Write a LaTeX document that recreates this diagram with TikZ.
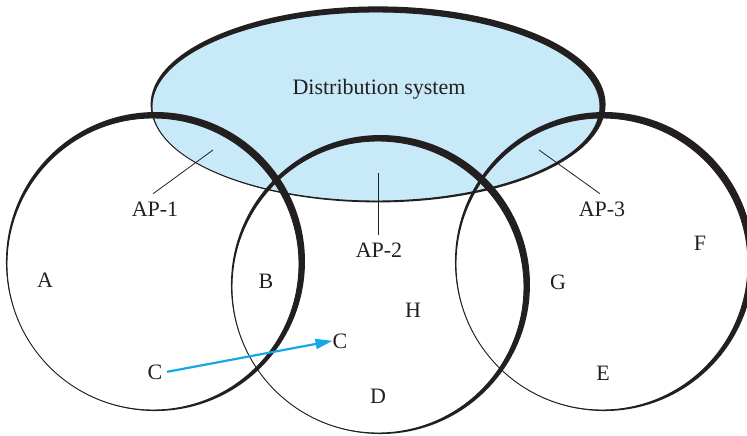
\documentclass[tikz,border=0pt]{standalone}
\usepackage{fontspec}
\setmainfont{Liberation Serif}
\usetikzlibrary{calc,arrows.meta}
\definecolor{ink}{HTML}{231F20}
\definecolor{dsfill}{HTML}{C7E9F8}
\definecolor{arrowblue}{HTML}{14A8E4}
\begin{document}
\begin{tikzpicture}[x=1pt,y=-1pt,
  lbl/.style={font=\fontsize{22}{24}\selectfont, text=ink, inner sep=0pt, anchor=base},
  aplbl/.style={lbl, inner sep=7.5pt},
  thinline/.style={draw=ink, line width=0.9pt},
  leader/.style={draw=ink, line width=0.8pt},
  moveline/.style={draw=arrowblue, line width=2.2pt, -{Triangle[length=17pt,width=10pt]}}]
\useasboundingbox (0,0) rectangle (747,436);
\clip (0,0) rectangle (747,436);
% centres
\coordinate (e) at (376,106.5);
\coordinate (c1) at (153,264);
\coordinate (c2) at (378,287);
\coordinate (c3) at (602,264);
% distribution system fill
\fill[dsfill] (e) ellipse [x radius=224, y radius=94.5];
% ellipse outline with heavy upper-right edge
\fill[ink, even odd rule] ($(e)+(2.1,-2.1)$) ellipse [x radius=227.5, y radius=98]
   (e) ellipse [x radius=224, y radius=94.5];
\draw[thinline] (e) ellipse [x radius=224, y radius=94.5];
% BSS circles with heavy upper-right edge
\foreach \c in {c1,c2,c3}{
  \fill[ink, even odd rule] ($(\c)+(2.47,-2.47)$) circle (149.5) (\c) circle (146);
  \draw[thinline] (\c) circle (146);
}
% labels
\node[lbl] (ds) at (379,94) {Distribution system};
\node[aplbl] (ap1) at (155,216) {AP-1};
\node[aplbl] (ap2) at (379,257) {AP-2};
\node[aplbl] (ap3) at (602,216) {AP-3};
\coordinate (s1) at (213,150);
\coordinate (s2) at (378,173);
\coordinate (s3) at (539,150);
\draw[leader] (s1) -- ([xshift=-2pt]ap1.north);
\draw[leader] (s2) -- ([xshift=-1pt]ap2.north);
\draw[leader] (s3) -- ([xshift=-2pt]ap3.north);
\node[lbl] (a) at (45,287) {A};
\node[lbl] (b) at (266,288) {B};
\node[lbl] (cl) at (155,379) {C};
\node[lbl] (cr) at (340,348) {C};
\node[lbl] (h) at (413,317) {H};
\node[lbl] (d) at (378,403) {D};
\node[lbl] (g) at (558,289) {G};
\node[lbl] (f) at (700,250) {F};
\node[lbl] (ee) at (603,380) {E};
\draw[moveline] ([xshift=4.5pt]cl.east) -- (cr.west);
\end{tikzpicture}
\end{document}
